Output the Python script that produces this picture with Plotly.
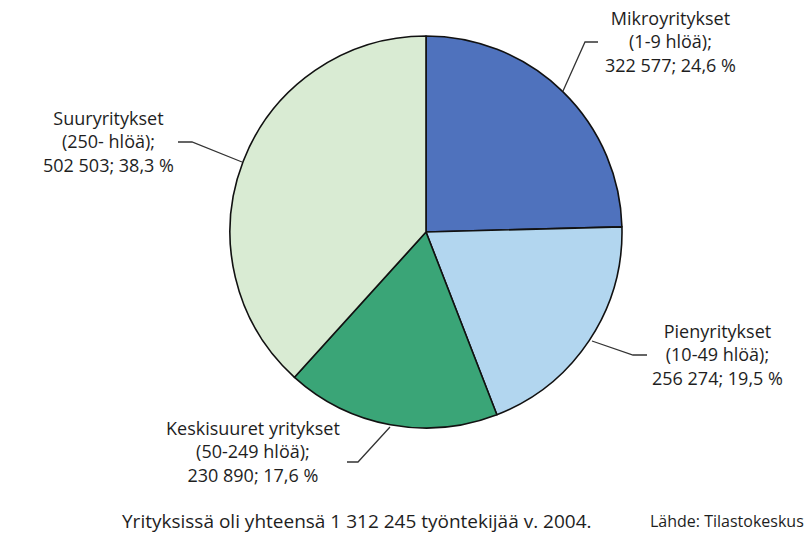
import plotly.graph_objects as go

# Data
categories = ["Mikroyritykset", "Pienyritykset", "Keskisuuret yritykset", "Suuryritykset"]
size_ranges = ["(1-9 hlöä);", "(10-49 hlöä);", "(50-249 hlöä);", "(250- hlöä);"]
employees = [322577, 256274, 230890, 502503]
colors = ["#4f72bd", "#b2d6ef", "#3aa577", "#d9ebd3"]
footer_left = "Yrityksissä oli yhteensä 1 312 245 työntekijää v. 2004."
footer_right = "Lähde: Tilastokeskus"

W, H = 811, 544
total = sum(employees)


def fmt_num(v):
    return f"{v:,}".replace(",", " ")


def fmt_pct(v):
    return f"{v / total * 100:.1f}".replace(".", ",") + " %"


labels_text = [f"{c}<br>{r}<br>{fmt_num(v)}; {fmt_pct(v)}"
               for c, r, v in zip(categories, size_ranges, employees)]

# label placement (pixel centres) and leader lines (pixel polylines)
label_pos = [(670, 42), (717, 354), (253, 451), (108, 142)]
leader_lines = [
    [(598, 42), (585, 42), (563, 91)],
    [(647, 355), (633, 355), (592, 341)],
    [(347, 462), (358, 462), (390, 427)],
    [(178, 142), (192, 142), (242, 162)],
]


def px(x):
    return x / W


def py(y):
    return 1 - y / H


fig = go.Figure()
fig.add_trace(go.Pie(
    labels=categories,
    values=employees,
    sort=False,
    direction="clockwise",
    rotation=0,
    textinfo="none",
    hoverinfo="label+value+percent",
    marker=dict(colors=colors, line=dict(color="#111111", width=1.6)),
    domain=dict(x=[px(230), px(622)], y=[py(428), py(36)]),
    showlegend=False,
))

font_family = "'Open Sans', Lato, sans-serif"
annotations = []
for txt, (x, y) in zip(labels_text, label_pos):
    annotations.append(dict(
        x=px(x), y=py(y), xref="paper", yref="paper",
        text=txt, showarrow=False, align="center",
        xanchor="center", yanchor="middle",
        font=dict(family=font_family, size=18, color="#1e1e1e"),
    ))

annotations.append(dict(
    x=px(120), y=py(521), xref="paper", yref="paper", text=footer_left,
    showarrow=False, xanchor="left", yanchor="middle",
    font=dict(family=font_family, size=19, color="#1e1e1e"),
))
annotations.append(dict(
    x=px(806), y=py(521), xref="paper", yref="paper", text=footer_right,
    showarrow=False, xanchor="right", yanchor="middle",
    font=dict(family=font_family, size=16, color="#1e1e1e"),
))

shapes = []
for pts in leader_lines:
    path = "M " + " L ".join(f"{px(x)},{py(y)}" for x, y in pts)
    shapes.append(dict(type="path", xref="paper", yref="paper", path=path,
                       line=dict(color="#333333", width=1.3)))

fig.update_layout(
    width=W, height=H,
    margin=dict(l=0, r=0, t=0, b=0),
    paper_bgcolor="white", plot_bgcolor="white",
    annotations=annotations, shapes=shapes,
)

fig.write_html(
    "out.html",
    config={"displayModeBar": False},
    post_script="document.body.style.margin='0';document.body.style.overflow='hidden';",
)
